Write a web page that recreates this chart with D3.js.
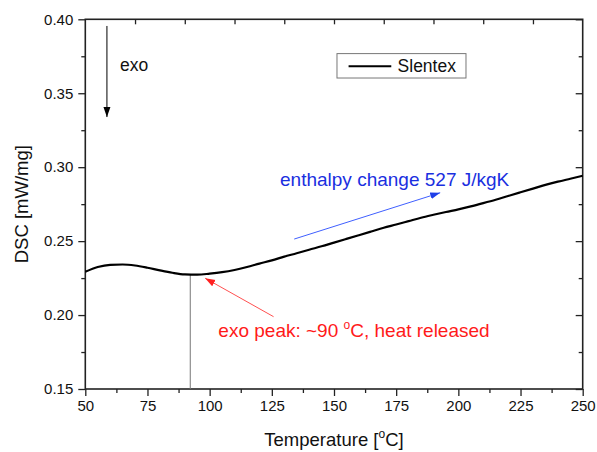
<!DOCTYPE html>
<html>
<head>
<meta charset="utf-8">
<script src="https://cdn.jsdelivr.net/npm/d3@7"></script>
<style>
  body { margin: 0; background: #fff; }
  svg { font-family: "Liberation Sans", Arial, sans-serif; }
</style>
</head>
<body>
<svg id="chart" width="597" height="452"></svg>
<script>
// DSC curve
var temps = [50, 55, 60, 65, 70, 75, 80, 85, 90, 95, 100, 105, 110, 115, 120, 125, 130, 135, 140, 145,
  150, 155, 160, 165, 170, 175, 180, 185, 190, 195, 200, 205, 210, 215, 220, 225, 230, 235, 240, 245, 250];
var dsc = [0.2293, 0.2325, 0.2340, 0.2342, 0.2335, 0.2320, 0.2302, 0.2286, 0.2275, 0.2273, 0.2280, 0.2290,
  0.2305, 0.2325, 0.2348, 0.2370, 0.2395, 0.2418, 0.2442, 0.2465, 0.2490, 0.2515, 0.2540, 0.2565,
  0.2590, 0.2612, 0.2635, 0.2658, 0.2678, 0.2697, 0.2715, 0.2735, 0.2757, 0.2780, 0.2805, 0.2830,
  0.2855, 0.2880, 0.2902, 0.2922, 0.2942];
var xTicks = [50, 75, 100, 125, 150, 175, 200, 225, 250];
var yTicks = [0.15, 0.20, 0.25, 0.30, 0.35, 0.40];
var peakT = 92.2;

var margin = { top: 19.3, right: 14.3, bottom: 63, left: 85.3 },
  w = 597 - margin.left - margin.right,
  h = 452 - margin.top - margin.bottom;

var svg = d3.select("#chart");
var g = svg.append("g").attr("transform", `translate(${margin.left},${margin.top})`);

var x = d3.scaleLinear().domain([50, 250]).range([0, w]);
var y = d3.scaleLinear().domain([0.15, 0.40]).range([h, 0]);

var defs = svg.append("defs");
function marker(id, color) {
  defs.append("marker")
    .attr("id", id)
    .attr("viewBox", "0 0 10 10")
    .attr("refX", 10).attr("refY", 5)
    .attr("markerWidth", 10).attr("markerHeight", 10)
    .attr("markerUnits", "userSpaceOnUse")
    .attr("orient", "auto")
    .append("path").attr("d", "M0,1.5 L10,5 L0,8.5 Z").attr("fill", color);
}
marker("arrBlack", "#000");
marker("arrBlue", "#1f3fe8");
marker("arrRed", "#ff2020");

// minor ticks
var xMinor = d3.range(62.5, 250, 25);
var yMinor = d3.range(0.175, 0.40, 0.05);

// bottom axis
g.append("g").attr("transform", `translate(0,${h})`)
  .call(d3.axisBottom(x).tickValues(xTicks).tickSize(7).tickPadding(4).tickFormat(d3.format("d")));
g.append("g").attr("transform", `translate(0,${h})`)
  .call(d3.axisBottom(x).tickValues(xMinor).tickSize(4).tickFormat(""));
// left axis
g.append("g")
  .call(d3.axisLeft(y).tickValues(yTicks).tickSize(7).tickPadding(5).tickFormat(d3.format(".2f")));
g.append("g").call(d3.axisLeft(y).tickValues(yMinor).tickSize(4).tickFormat(""));
// right axis (inward)
g.append("g").attr("transform", `translate(${w},0)`)
  .call(d3.axisLeft(y).tickValues(yTicks).tickSize(7).tickFormat(""));
g.append("g").attr("transform", `translate(${w},0)`)
  .call(d3.axisLeft(y).tickValues(yMinor).tickSize(4).tickFormat(""));
// top axis (inward)
g.append("g")
  .call(d3.axisBottom(x).tickValues(d3.range(70, 250, 20)).tickSize(5).tickFormat(""));

g.selectAll(".domain").remove();
g.selectAll(".tick line").attr("stroke", "#222").attr("stroke-width", 1.3);
g.selectAll(".tick text").attr("font-size", 15).attr("fill", "#111")
  .attr("font-family", "'Liberation Sans', Arial, sans-serif");

// frame
g.append("rect").attr("width", w).attr("height", h)
  .attr("fill", "none").attr("stroke", "#222").attr("stroke-width", 1.6);

// peak marker line
g.append("line")
  .attr("x1", x(peakT)).attr("x2", x(peakT))
  .attr("y1", h).attr("y2", y(0.2273))
  .attr("stroke", "#777").attr("stroke-width", 1);

// curve
var line = d3.line().x((d, i) => x(temps[i])).y(d => y(d)).curve(d3.curveMonotoneX);
g.append("path").datum(dsc)
  .attr("d", line)
  .attr("fill", "none").attr("stroke", "#000").attr("stroke-width", 2.2);

// exo arrow
g.append("line")
  .attr("x1", x(58.7)).attr("x2", x(58.7))
  .attr("y1", y(0.3955)).attr("y2", y(0.3339))
  .attr("stroke", "#000").attr("stroke-width", 1)
  .attr("marker-end", "url(#arrBlack)");
g.append("text").attr("x", x(64)).attr("y", y(0.3652))
  .attr("font-size", 17.5).attr("fill", "#111").text("exo");

// legend
var leg = g.append("g").attr("transform", `translate(${x(151.2)},${y(0.3768)})`);
leg.append("rect").attr("width", 129).attr("height", 24.4)
  .attr("fill", "#fff").attr("stroke", "#777").attr("stroke-width", 1);
leg.append("line").attr("x1", 11.6).attr("x2", 54.3).attr("y1", 12.7).attr("y2", 12.7)
  .attr("stroke", "#000").attr("stroke-width", 2);
leg.append("text").attr("x", 60.6).attr("y", 18.6).attr("font-size", 17.5).attr("fill", "#111").text("Slentex");

// enthalpy annotation (blue)
g.append("line")
  .attr("x1", x(134)).attr("y1", y(0.2514))
  .attr("x2", x(192.7)).attr("y2", y(0.2827))
  .attr("stroke", "#3f5fff").attr("stroke-width", 1)
  .attr("marker-end", "url(#arrBlue)");
g.append("text").attr("x", x(128.3)).attr("y", y(0.2873))
  .attr("font-size", 19).attr("fill", "#1a2fe0").text("enthalpy change 527 J/kgK");

// exo peak annotation (red)
g.append("line")
  .attr("x1", x(125.7)).attr("y1", y(0.1989))
  .attr("x2", x(98.2)).attr("y2", y(0.2249))
  .attr("stroke", "#ff5050").attr("stroke-width", 1)
  .attr("marker-end", "url(#arrRed)");
var red = g.append("text").attr("x", x(103.5)).attr("y", y(0.1854))
  .attr("font-size", 19).attr("fill", "#ff1a1a");
red.append("tspan").text("exo peak: ~90 ");
red.append("tspan").attr("font-size", 12).attr("dy", -8).text("o");
red.append("tspan").attr("dy", 8).text("C, heat released");

// axis titles
var xt = svg.append("text").attr("x", margin.left + w / 2).attr("y", 446)
  .attr("text-anchor", "middle").attr("font-size", 18.5).attr("fill", "#111");
xt.append("tspan").text("Temperature [");
xt.append("tspan").attr("font-size", 12).attr("dy", -8).text("o");
xt.append("tspan").attr("dy", 8).text("C]");

svg.append("text")
  .attr("transform", `translate(28,${margin.top + h / 2}) rotate(-90)`)
  .attr("text-anchor", "middle").attr("font-size", 18.5).attr("fill", "#111")
  .text("DSC [mW/mg]");
</script>
</body>
</html>
